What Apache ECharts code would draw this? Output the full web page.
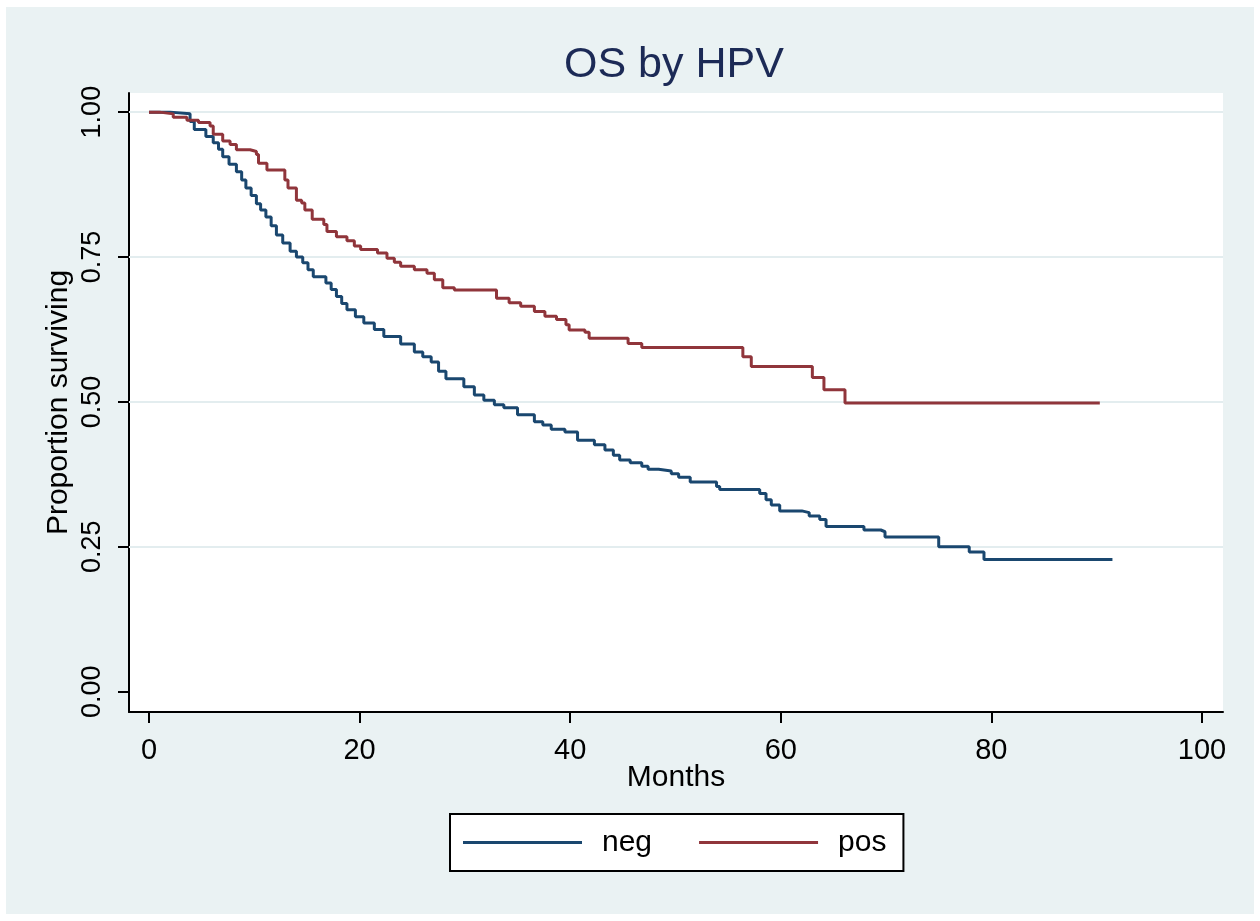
<!DOCTYPE html>
<html lang="en">
<head>
<meta charset="UTF-8">
<title>OS by HPV</title>
<script src="https://cdn.jsdelivr.net/npm/echarts@6/dist/echarts.min.js"></script>
<style>
  html, body { margin: 0; padding: 0; background: #fff; }
  #km { position: absolute; left: 6px; top: 7px; width: 1248px; height: 907px; }
</style>
</head>
<body>
<div id="km"></div>
<script>
  // Kaplan-Meier estimates: time of each drop and the value after it
  var negMonths = [0, 2.0, 3.9, 4.3, 5.4, 6.1, 6.6, 7.0, 7.6, 8.3, 8.8, 9.2, 9.7, 10.2, 10.6, 11.1, 11.6, 12.1, 12.7, 13.4,
    14.0, 14.6, 15.1, 15.6, 16.8, 17.3, 17.8, 18.3, 18.8, 19.6, 20.4, 21.4, 22.3, 23.9, 25.2, 26.0, 26.8, 27.5, 28.2, 29.9,
    30.9, 31.8, 32.8, 33.7, 35.0, 36.6, 37.4, 38.2, 39.5, 40.7, 42.3, 43.3, 44.1, 44.7, 45.7, 46.8, 47.4, 48.4, 49.6, 50.3,
    51.4, 53.9, 54.2, 58.0, 58.6, 59.1, 59.9, 62.0, 62.7, 63.7, 64.3, 67.9, 69.5, 69.9, 75.0, 77.9, 79.3, 91.5];
  var negSurv = [1.0, 0.997, 0.984, 0.970, 0.958, 0.947, 0.936, 0.923, 0.910, 0.897, 0.883, 0.869, 0.856, 0.842, 0.831, 0.819, 0.804, 0.788, 0.774, 0.760,
    0.750, 0.740, 0.728, 0.716, 0.705, 0.694, 0.682, 0.670, 0.659, 0.647, 0.636, 0.625, 0.613, 0.600, 0.586, 0.578, 0.569, 0.553, 0.540, 0.526,
    0.512, 0.503, 0.495, 0.490, 0.478, 0.466, 0.460, 0.453, 0.448, 0.434, 0.426, 0.417, 0.408, 0.400, 0.395, 0.389, 0.384, 0.381, 0.376, 0.370,
    0.362, 0.354, 0.349, 0.342, 0.331, 0.322, 0.312, 0.309, 0.303, 0.297, 0.285, 0.279, 0.276, 0.267, 0.250, 0.241, 0.228, 0.228];

  var posMonths = [0, 1.0, 2.3, 3.6, 4.7, 5.8, 6.1, 7.0, 7.7, 8.3, 9.6, 10.2, 10.4, 11.2, 12.9, 13.2, 14.0, 14.5, 14.8, 15.5,
    16.6, 16.9, 17.8, 18.8, 19.5, 20.1, 21.7, 22.6, 23.3, 23.9, 25.2, 26.4, 27.1, 27.9, 29.0, 33.0, 34.2, 35.3, 36.6, 37.6,
    38.7, 39.6, 39.9, 41.4, 41.8, 45.5, 46.8, 56.4, 57.2, 63.0, 64.1, 66.1, 90.3];
  var posSurv = [1.0, 0.997, 0.991, 0.986, 0.982, 0.976, 0.962, 0.950, 0.944, 0.935, 0.932, 0.927, 0.912, 0.900, 0.883, 0.869, 0.848, 0.843, 0.831, 0.815,
    0.806, 0.794, 0.785, 0.778, 0.769, 0.763, 0.757, 0.748, 0.741, 0.734, 0.728, 0.722, 0.711, 0.697, 0.693, 0.679, 0.671, 0.665, 0.656, 0.648,
    0.642, 0.633, 0.624, 0.620, 0.610, 0.601, 0.594, 0.578, 0.561, 0.542, 0.521, 0.498, 0.498];

  var xTicks = [0, 20, 40, 60, 80, 100];
  var yTicks = [0, 0.25, 0.5, 0.75, 1];
  var yGrid = [0.25, 0.5, 0.75, 1];

  function zip(a, b) {
    return a.map(function (t, i) { return [t, b[i]]; });
  }

  var font = '"Liberation Sans", Arial, sans-serif';
  var chart = echarts.init(document.getElementById('km'));

  var option = {
    backgroundColor: '#eaf2f3',
    animation: false,
    title: {
      text: 'OS by HPV',
      left: 553,
      top: 32,
      textStyle: { fontFamily: font, fontSize: 43, fontWeight: 'normal', color: '#1c2a56' }
    },
    grid: {
      left: 123, right: 31, top: 86, bottom: 202,
      show: true, backgroundColor: '#fff', borderWidth: 0
    },
    legend: {
      data: ['neg', 'pos'],
      selectedMode: false,
      icon: 'rect',
      left: 444,
      top: 807,
      itemWidth: 119,
      itemHeight: 3,
      itemGap: 47,
      padding: [13, 17, 13, 13],
      borderColor: '#000',
      borderWidth: 2,
      backgroundColor: '#fff',
      textStyle: { fontFamily: font, fontSize: 30, color: '#000', lineHeight: 31, padding: [0, 0, 0, 15] }
    },
    xAxis: {
      type: 'value',
      min: -1.9,
      max: 102,
      name: 'Months',
      nameLocation: 'middle',
      nameGap: 51,
      nameMoveOverlap: false,
      nameTextStyle: { fontFamily: font, fontSize: 30, color: '#000' },
      axisLine: { show: true, onZero: false, lineStyle: { color: '#000', width: 2 } },
      axisTick: { show: true, length: 11, customValues: xTicks, lineStyle: { color: '#000', width: 2 } },
      axisLabel: { customValues: xTicks, margin: 24, fontFamily: font, fontSize: 29, color: '#000' },
      splitLine: { show: false }
    },
    yAxis: {
      type: 'value',
      min: -0.035,
      max: 1.033,
      name: 'Proportion surviving',
      nameLocation: 'middle',
      nameGap: 55,
      nameMoveOverlap: false,
      nameTextStyle: { fontFamily: font, fontSize: 30, color: '#000' },
      axisLine: { show: true, onZero: false, lineStyle: { color: '#000', width: 2 } },
      axisTick: { show: true, length: 11, customValues: yTicks, lineStyle: { color: '#000', width: 2 } },
      axisLabel: {
        customValues: yTicks, rotate: 90, margin: 23, fontFamily: font, fontSize: 27, color: '#000',
        formatter: function (v) { return v.toFixed(2); }
      },
      splitLine: { show: false }
    },
    series: [
      {
        name: 'gridlines',
        type: 'line',
        data: [],
        z: 1,
        silent: true,
        markLine: {
          silent: true,
          z: 1,
          symbol: 'none',
          label: { show: false },
          lineStyle: { color: '#e3edef', width: 2, type: 'solid' },
          data: yGrid.map(function (v) { return { yAxis: v }; })
        }
      },
      {
        name: 'neg',
        type: 'line',
        step: 'end',
        symbol: 'none',
        z: 3,
        color: '#1a476f',
        lineStyle: { color: '#1a476f', width: 3 },
        data: zip(negMonths, negSurv)
      },
      {
        name: 'pos',
        type: 'line',
        step: 'end',
        symbol: 'none',
        z: 3,
        color: '#90353b',
        lineStyle: { color: '#90353b', width: 3 },
        data: zip(posMonths, posSurv)
      }
    ]
  };

  chart.setOption(option);
</script>
</body>
</html>
